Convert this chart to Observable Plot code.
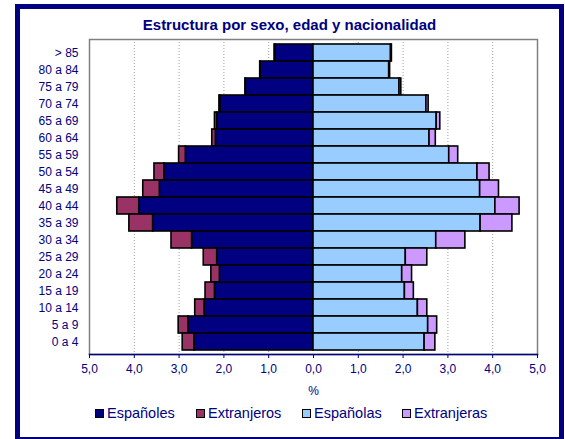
<!DOCTYPE html>
<html>
<head>
<meta charset="utf-8">
<script src="https://cdn.jsdelivr.net/npm/d3@7"></script>
<script src="https://cdn.jsdelivr.net/npm/@observablehq/plot@0.6"></script>
<style>
  html, body { margin: 0; padding: 0; background: #fff; overflow: hidden; }
  body { width: 565px; height: 439px; position: relative; font-family: "Liberation Sans", Arial, sans-serif; }
  #frame { position: absolute; left: 15px; top: 4px; width: 549px; height: 438px; box-sizing: border-box; border: 5px solid #000080; }
  #title { position: absolute; left: 15px; width: 549px; top: 16px; text-align: center; font-weight: bold; font-size: 15px; color: #000080; }
  #chart { position: absolute; left: 0; top: 0; }
  #legend { position: absolute; top: 405px; left: 0; width: 565px; font-size: 14.5px; color: #000080; }
  .item { position: absolute; top: 0; display: flex; align-items: center; white-space: nowrap; }
  .sw { width: 7px; height: 7px; border: 1px solid #000; margin-right: 3px; }
</style>
</head>
<body>
<div id="frame"></div>
<div id="title">Estructura por sexo, edad y nacionalidad</div>
<div id="chart"></div>
<div id="legend"></div>
<script>
const ages = ["> 85","80 a 84","75 a 79","70 a 74","65 a 69","60 a 64","55 a 59","50 a 54","45 a 49","40 a 44","35 a 39","30 a 34","25 a 29","20 a 24","15 a 19","10 a 14","5 a 9","0 a 4"];
const espanoles   = [0.85,1.18,1.51,2.08,2.15,2.18,2.85,3.33,3.43,3.89,3.58,2.71,2.15,2.09,2.20,2.43,2.79,2.66];
const extranjeros = [0.02,0.01,0.01,0.02,0.05,0.08,0.15,0.22,0.37,0.49,0.53,0.46,0.30,0.19,0.21,0.21,0.22,0.26];
const espanolas   = [1.73,1.69,1.92,2.52,2.75,2.59,3.03,3.66,3.72,4.06,3.73,2.74,2.06,1.98,2.04,2.33,2.56,2.48];
const extranjeras = [0.02,0.02,0.04,0.05,0.08,0.14,0.20,0.27,0.42,0.54,0.71,0.65,0.48,0.22,0.20,0.21,0.20,0.24];
const seriesNames = ["Españoles","Extranjeros","Españolas","Extranjeras"];
const seriesColors = ["#000080","#993366","#99CCFF","#CC99FF"];
const xTicks = [-5,-4,-3,-2,-1,0,1,2,3,4,5];
const gridTicks = [-4,-3,-2,-1,1,2,3,4];

const rows = [];
ages.forEach((a, i) => {
  rows.push({age: a, series: "Españoles", value: -espanoles[i]});
  rows.push({age: a, series: "Extranjeros", value: -extranjeros[i]});
  rows.push({age: a, series: "Españolas", value: espanolas[i]});
  rows.push({age: a, series: "Extranjeras", value: extranjeras[i]});
});

const fmt = v => Math.abs(v).toFixed(1).replace(".", ",");

const chart = Plot.plot({
  width: 565,
  height: 439,
  marginLeft: 89,
  marginRight: 28,
  marginTop: 39,
  marginBottom: 85,
  style: {fontFamily: "Liberation Sans, Arial, sans-serif", background: "transparent", overflow: "visible"},
  x: {domain: [-5, 5]},
  y: {domain: ages, padding: 0},
  color: {domain: seriesNames, range: seriesColors},
  marks: [
    Plot.ruleX(gridTicks, {stroke: "#a0a0a0", strokeDasharray: "1,2", strokeWidth: 1}),
    Plot.barX(rows, Plot.stackX({x: "value", y: "age", fill: "series", stroke: "#000", strokeWidth: 1.6, inset: 0})),
    Plot.frame({stroke: "#808080", strokeWidth: 1.5}),
    Plot.frame({anchor: "bottom", stroke: "#000080", strokeWidth: 1.5}),
    Plot.axisX({ticks: xTicks, tickFormat: fmt, tickSize: 4, tickPadding: 6, stroke: "#000080", color: "#000080", fill: "#000080", fontSize: 12,
      label: "%", labelAnchor: "center", labelArrow: "none", labelOffset: 40}),
    Plot.axisY({tickSize: 0, tickPadding: 11, fill: "#000080", fontSize: 12, label: null})
  ]
});
document.getElementById("chart").appendChild(chart);

const legend = document.getElementById("legend");
const legendX = [95, 196, 302, 402];
seriesNames.forEach((s, i) => {
  const it = document.createElement("div");
  it.className = "item";
  it.style.left = legendX[i] + "px";
  const sw = document.createElement("div");
  sw.className = "sw";
  sw.style.background = seriesColors[i];
  it.appendChild(sw);
  const t = document.createElement("span");
  t.textContent = s;
  it.appendChild(t);
  legend.appendChild(it);
});
</script>
</body>
</html>
